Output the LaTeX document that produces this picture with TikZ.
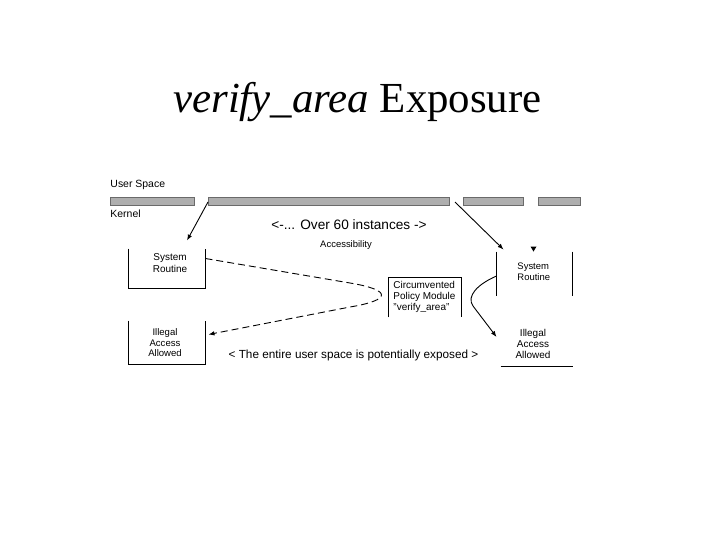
\documentclass[tikz,border=0pt]{standalone}
\usepackage{fontspec}
\setmainfont{Liberation Serif}
\setsansfont{Liberation Sans}
\usepackage{xcolor}
\definecolor{barfill}{HTML}{AEAEAE}
\definecolor{barline}{HTML}{6A6A6A}
\usepackage{tikz}
\usetikzlibrary{arrows.meta}
\newcommand{\fsz}[2]{\fontsize{#1}{#2}\selectfont}

\begin{document}
\begin{tikzpicture}[x=1bp, y=-1bp, line width=0.9bp,
  every node/.style={font=\sffamily, inner sep=0pt},
  bar/.style={draw=barline, fill=barfill, line width=0.8bp},
  frame/.style={minimum width=#1bp},
  tip/.style={-{Latex[length=6bp,width=4.5bp]}},
  dash line/.style={dash pattern=on 7bp off 4bp}]
\useasboundingbox (0,0) rectangle (720,540);
\node[anchor=base, font=\fsz{43}{43}\rmfamily] (title) at (357.5,113) {\textit{verify\_area} Exposure};
% user space / kernel boundary
\foreach \xa/\xb in {110/194,208/449,463/523,538/580}{
  \draw[bar] (\xa,197) rectangle (\xb,205);
}
\node[anchor=west, font=\sffamily\fsz{10.5}{12}] (usr) at (110,185) {User Space};
\node[anchor=west, font=\sffamily\fsz{10.5}{12}] (krn) at (110,214) {Kernel};
\node[font=\sffamily\fsz{13.7}{15}] (inst) at (349,225) {<-... Over 60 instances ->};
\node[font=\sffamily\fsz{9.5}{11}] (acc) at (346,245) {Accessibility};
\node[font=\sffamily\fsz{11.8}{13}] (expo) at (353.5,355) {< The entire user space is potentially exposed >};
% frames
\node[frame=76, minimum height=39bp] (sysL) at (167,268.5) {};
\node[frame=76, minimum height=43bp] (illL) at (167,342.5) {};
\node[frame=72, minimum height=39bp] (circ) at (425,297.5) {};
\node[frame=75, minimum height=44bp] (sysR) at (534.5,274) {};
\node[frame=72, minimum height=44bp] (illR) at (537,344) {};
\draw (sysL.north west) |- (sysL.south east) -- (sysL.north east);
\draw (illL.north west) |- (illL.south east) -- (illL.north east);
\draw (circ.south west) |- (circ.north east) -- (circ.south east);
\draw (sysR.north west) -- (sysR.south west);
\draw (sysR.north east) -- (sysR.south east);
\draw (illR.south west) -- (illR.south east);
% texts
\node[align=center, font=\sffamily\fsz{10}{12}] (sysLtxt) at (170,263) {System\\Routine};
\node[align=center, font=\sffamily\fsz{9.6}{10.5}] (illLtxt) at (165,343) {Illegal\\Access\\Allowed};
\node[anchor=west, align=left, font=\sffamily\fsz{10}{11}] (circtxt) at (393,296.5) {Circumvented\\Policy Module\\"verify\_area"};
\node[anchor=west, align=left, font=\sffamily\fsz{9.5}{11}] (sysRtxt) at (517,271.5) {System\\Routine};
\node[align=center, font=\sffamily\fsz{10}{11}] (illRtxt) at (533,344) {Illegal\\Access\\Allowed};
% connectors
\coordinate (inL) at (208,202);
\coordinate (inR) at (455,202);
\draw[tip] (inL) -- ([xshift=20bp,yshift=8bp]sysL.north);
\draw[tip] (inR) -- ([xshift=7bp,yshift=2bp]sysR.north west);
\fill ([xshift=-4bp,yshift=5bp]sysR.north) -- ([xshift=2bp,yshift=5bp]sysR.north) -- ([xshift=-1bp]sysR.north) -- cycle;
\draw[tip, dash line] ([yshift=10bp]sysL.east) -- (350,283)
  .. controls (392,290) and (392,300) .. (350,307) -- ([xshift=3bp,yshift=8bp]illL.east);
\draw[tip] ([yshift=-2bp]sysR.west) .. controls (478,284) and (466,296) .. (473,306)
  -- ([xshift=-4bp,yshift=7bp]illR.west);
\end{tikzpicture}
\end{document}
